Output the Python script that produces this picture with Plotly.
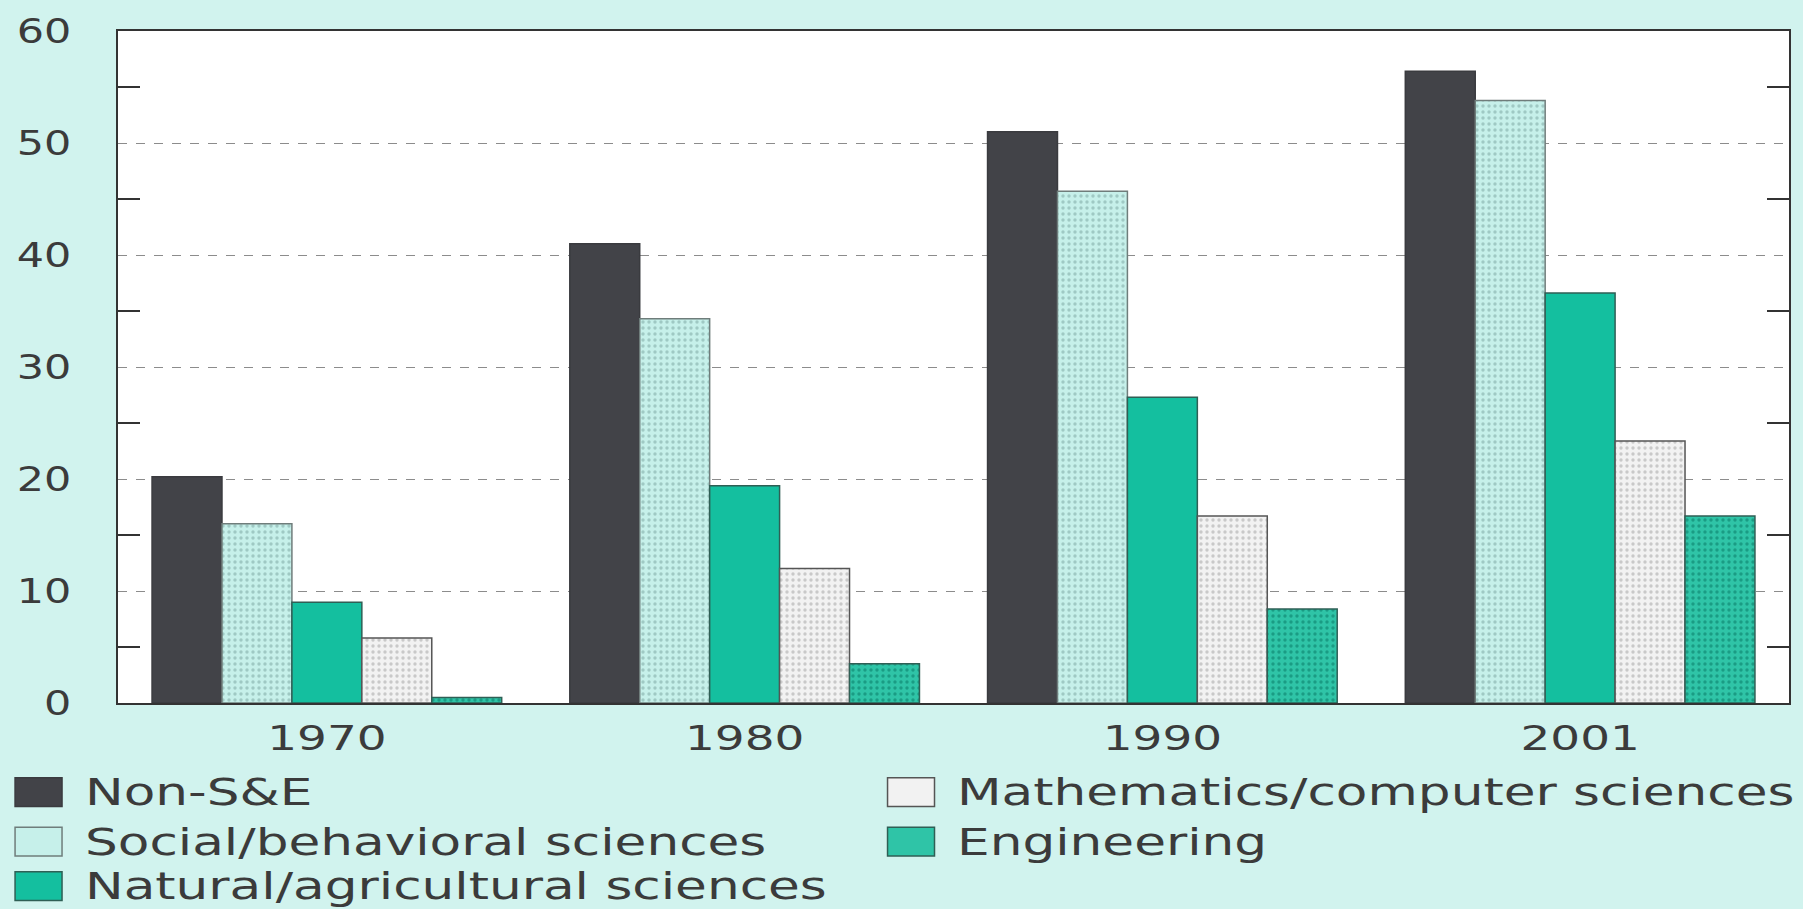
import plotly.graph_objects as go

# Degree shares by field, four census years
years = ["1970", "1980", "1990", "2001"]
non_se = [20.2, 41.0, 51.0, 56.4]
social_behavioral = [16.0, 34.3, 45.7, 53.8]
natural_agricultural = [9.0, 19.4, 27.3, 36.6]
math_computer = [5.8, 12.0, 16.7, 23.4]
engineering = [0.5, 3.5, 8.4, 16.7]

series_names = [
    "Non-S&E",
    "Social/behavioral sciences",
    "Natural/agricultural sciences",
    "Mathematics/computer sciences",
    "Engineering",
]
series_values = [non_se, social_behavioral, natural_agricultural, math_computer, engineering]

# fill colour, pattern dot colour, outline colour
styles = [
    dict(fill="#424348", dots=None, line="#3a3b3f"),
    dict(fill="#c6f0ea", dots="#9fc9c4", line="#6f7d7b"),
    dict(fill="#14bf9f", dots=None, line="#2f5f55"),
    dict(fill="#f2f2f2", dots="#c9c9c9", line="#555555"),
    dict(fill="#2fc4a7", dots="#1a9c84", line="#2f5f55"),
]

W, H = 1803, 909
ML, MR, MT, MB = 118, 13, 24, 206
PW, PH = W - ML - MR, H - MT - MB
TEXT = "#3b3b3b"
FONT = "DejaVu Sans"

fig = go.Figure()
for name, vals, st in zip(series_names, series_values, styles):
    marker = dict(color=st["fill"], line=dict(color=st["line"], width=1.5))
    if st["dots"]:
        marker["pattern"] = dict(shape=".", fgcolor=st["dots"], bgcolor=st["fill"],
                                 size=6, solidity=0.25, fillmode="replace")
    fig.add_trace(go.Bar(x=years, y=vals, name=name, marker=marker, showlegend=False))

# Two-column key under the plot, filled column by column
def px_to_paper_x(px):
    return (px - ML) / PW

def px_to_paper_y(py):
    return (H - MB - py) / PH

rows = 3
col_x = [15, 888]
text_gap = 68
row_y = [793, 843, 888]
sw_w, sw_h = 47, 29
for i, (name, st) in enumerate(zip(series_names, styles)):
    c, r = divmod(i, rows)
    x0, yc = col_x[c], row_y[r]
    fig.add_shape(type="rect", xref="paper", yref="paper",
                  x0=px_to_paper_x(x0), x1=px_to_paper_x(x0 + sw_w),
                  y0=px_to_paper_y(yc + sw_h / 2), y1=px_to_paper_y(yc - sw_h / 2),
                  fillcolor=st["fill"], line=dict(color=st["line"], width=1.5))
    fig.add_annotation(xref="paper", yref="paper", x=px_to_paper_x(x0 + text_gap),
                       y=px_to_paper_y(yc), text=name, showarrow=False,
                       xanchor="left", yanchor="middle",
                       font=dict(family=FONT, size=38, color=TEXT))

fig.update_layout(
    width=W, height=H,
    margin=dict(l=ML, r=MR, t=MT, b=MB, pad=0),
    paper_bgcolor="#d1f3ee",
    plot_bgcolor="#ffffff",
    barmode="group",
    bargap=0.163,
    bargroupgap=0,
    font=dict(family=FONT, color=TEXT),
)
fig.update_xaxes(
    type="category", range=[-0.5, 3.5],
    showline=True, mirror=True, linecolor="#333333", linewidth=2,
    ticks="", showgrid=False,
    tickfont=dict(family=FONT, size=34, color=TEXT),
    ticklabelstandoff=4,
)
fig.update_yaxes(
    range=[0, 60], dtick=10, tick0=0,
    showline=True, mirror="ticks", linecolor="#333333", linewidth=2,
    showgrid=True, gridcolor="#8c8c8c", griddash="dash", gridwidth=1,
    zeroline=False,
    ticks="",
    minor=dict(ticks="inside", ticklen=22, tickcolor="#333333", dtick=5, tickwidth=1.5, showgrid=False),
    tickfont=dict(family=FONT, size=33, color=TEXT),
    ticklabelstandoff=38,
)

# The printed lettering is set wide: widen the glyphs of the labels and key text.
widen_text = """
var gd = document.getElementById('{plot_id}');
function widen(sel, f, fromLeft) {
  gd.querySelectorAll(sel).forEach(function (t) {
    var bb = t.getBBox();
    if (fromLeft) { t.setAttribute('text-anchor', 'start'); t.setAttribute('x', bb.x); }
    t.setAttribute('textLength', (bb.width * f).toFixed(1));
    t.setAttribute('lengthAdjust', 'spacingAndGlyphs');
  });
}
widen('.xtick text', 1.38, false);
widen('.ytick text', 1.3, false);
widen('text.annotation-text', 1.36, true);
"""

fig.write_html("out.html", post_script=widen_text)
